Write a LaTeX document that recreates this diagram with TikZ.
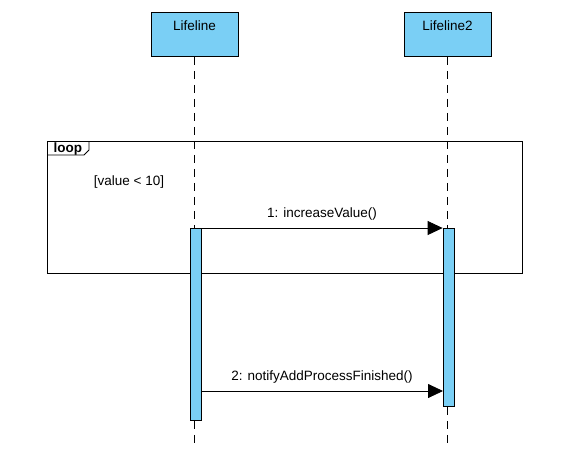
\documentclass[tikz,border=0pt]{standalone}
\usepackage{fontspec}
\setmainfont{Liberation Sans}
\usepackage{xcolor}
\usetikzlibrary{arrows.meta,positioning}

\definecolor{lifeblue}{RGB}{122,207,245}

\begin{document}
\begin{tikzpicture}[
  x=1pt, y=-1pt, line width=0.8pt,
  every node/.style={font=\fontsize{13.5}{15}\selectfont},
  head/.style={draw, fill=lifeblue, minimum width=87pt, inner ysep=3pt, text height=15pt, text depth=23pt, anchor=north},
  bar/.style={draw, fill=lifeblue, minimum width=11pt, inner sep=0pt, anchor=north},
  life/.style={dashed, dash pattern=on 8pt off 6pt},
  frame/.style={draw, minimum width=475pt, minimum height=132pt, inner sep=0pt, anchor=north west},
  msg/.style={-{Triangle[length=15pt,width=14pt]}}
]
\useasboundingbox (0,0) rectangle (567,475);

% lifelines
\node[head] (h1) at (194.5,12) {Lifeline};
\node[head] (h2) at (447.5,12) {Lifeline2};
\coordinate (e1) at (194.5,446);
\coordinate (e2) at (447.5,446);
\draw[life] (h1.south) -- (e1);
\draw[life] (h2.south) -- (e2);

% loop fragment
\node[frame] (loop) at (47,141) {};
\draw (loop.north west) ++(0,14) -- ++(37,0) -- ++(5,-5) -- ++(0,-9);
\node[font=\fontsize{13.5}{15}\selectfont\bfseries, anchor=west] (ltag) at (50,149.5) {loop};
\node (guard) at (129,182) {[value < 10]};

% activations
\node[bar, minimum height=192pt] (a1) at (195.5,228) {};
\node[bar, minimum height=178pt] (a2) at (448.5,228) {};

% messages
\draw[msg] (a1.north east) -- node[above=4pt] {1: increaseValue()} (a2.north west);
\coordinate (m2a) at (201,391);
\coordinate (m2b) at (443,391);
\draw[msg] (m2a) -- node[above=4pt] {2: notifyAddProcessFinished()} (m2b);
\end{tikzpicture}
\end{document}
